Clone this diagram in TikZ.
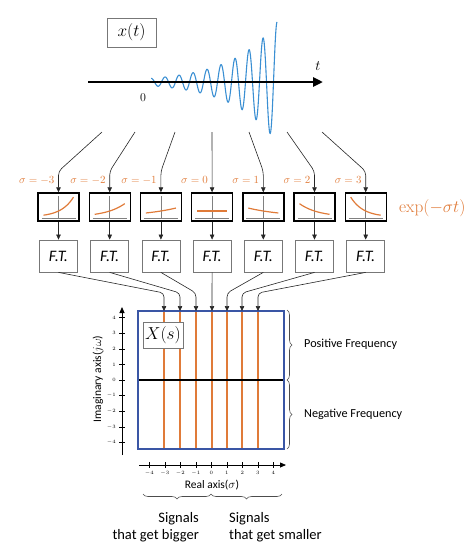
\documentclass[tikz,border=0pt]{standalone}
\usepackage[no-math]{fontspec}
\setmainfont{Carlito}
\usetikzlibrary{arrows.meta,decorations.pathreplacing,calc}
\definecolor{myorange}{HTML}{E07B39}
\definecolor{wavecol}{HTML}{3A8FD3}
\definecolor{plotblue}{HTML}{3A56A5}
\definecolor{boxgray}{HTML}{777777}
\tikzset{
 conn/.style={draw=black!85,line width=0.6pt,rounded corners=4pt,-{Triangle[length=5pt,width=4.5pt]}},
 graybox/.style={draw=boxgray,line width=0.8pt,fill=white,inner sep=0pt},
 expbox/.style={draw=black,line width=1.4pt,minimum width=41pt,minimum height=28pt,inner sep=0pt},
 ftbox/.style={graybox,minimum width=38pt,minimum height=32pt,font=\fontsize{16}{18}\selectfont\itshape},
 sig/.style={text=myorange,font=\fontsize{10.5}{11}\selectfont,anchor=east,inner sep=0pt},
 ticklbl/.style={font=\fontsize{5.5}{6}\selectfont,inner sep=0pt},
 brc/.style={decorate,decoration={brace,amplitude=5pt},draw=black!70,line width=0.6pt},
 lbl/.style={font=\fontsize{12.2}{14}\selectfont,inner sep=0pt},
 axisline/.style={line width=0.8pt,-{Triangle[length=6pt,width=5pt]}},
 sigline/.style={draw=myorange,line width=2pt}
}
\begin{document}
\begin{tikzpicture}[x=1pt,y=-1pt]
\useasboundingbox (0,0) rectangle (474,549);
% time signal
\draw[wavecol,line width=1.1pt] plot[domain=151:277,samples=500,smooth,variable=\u] (\u,{82-60*exp(0.0222*(\u-277))*cos(25.7143*(\u-277))});
\draw[line width=2.6pt,-{Triangle[length=10pt,width=9pt]}] (88,82) -- (323,82);
\node[font=\fontsize{15}{15}\selectfont] (tl) at (318,66) {$t$};
\node[font=\fontsize{13}{13}\selectfont] (zl) at (143,98) {$0$};
\node[graybox,minimum width=49pt,minimum height=29pt,font=\fontsize{17}{17}\selectfont] (xt) at (131.5,32.5) {$x(t)$};
% wave start points
\foreach \i/\sx in {1/102,2/135,3/175,4/212,5/249,6/287,7/322}{
  \coordinate (w\i) at (\sx,132);
}
% exp boxes and FT boxes
\foreach \i/\s in {1/-3,2/-2,3/-1,4/0,5/1,6/2,7/3}{
  \pgfmathsetmacro{\cx}{58.5+51.2*(\i-1)}
  \node[expbox] (e\i) at (\cx,207) {};
  \draw[gray,line width=0.7pt] (\cx-17,218) -- (\cx+17,218);
  \draw[gray,line width=0.7pt] (\cx,196) -- (\cx,219);
  \draw[myorange,line width=1.2pt] plot[domain=-1:1,samples=30,smooth,variable=\u] ({\cx+15*\u},{217-6*exp(-\s*0.4*\u)});
  \node[sig] (s\i) at (\cx-4,180) {$\sigma = \s$};
  \node[ftbox] (f\i) at (\cx,256) {F.T.};
  \draw[conn] (w\i) -- ([yshift=21pt]e\i.north) -- (e\i.north);
  \draw[conn] (e\i) -- (f\i);
}
\node[text=myorange,font=\fontsize{16.5}{17}\selectfont,anchor=west,inner sep=0pt] (expl) at (399,208) {$\exp(-\sigma t)$};
% plot region
\foreach \i/\px in {1/164,2/180,3/196,4/212,5/227,6/242,7/258}{
  \coordinate (p\i) at (\px,311);
  \coordinate (q\i) at (\px,449);
  \draw[sigline] (p\i) -- (q\i);
}
\draw[line width=1.1pt] (138,380) -- (284,380);
\node[draw=plotblue,line width=1.1pt,minimum width=146pt,minimum height=138pt,inner sep=0pt] (plot) at (211,380) {};
\foreach \i in {1,...,7}{
  \draw[conn] (f\i.south) -- ([yshift=18pt]p\i) -- (p\i);
}
\node[graybox,minimum width=40pt,minimum height=26pt,font=\fontsize{16}{16}\selectfont] (Xs) at (163,335) {$X(s)$};
% imaginary axis
\coordinate (ia0) at (122,455);
\coordinate (ia1) at (122,307);
\draw[axisline] (ia0) -- (ia1);
\foreach \k in {-4,...,4}{
  \pgfmathsetmacro{\py}{380-15.6*\k}
  \draw[line width=0.6pt] (119,\py) -- (125,\py);
  \node[ticklbl,anchor=east] at (116,\py) {$\k$};
}
\node[rotate=90,font=\fontsize{11.5}{13}\selectfont] (ial) at (98,379) {Imaginary axis($j\omega$)};
% real axis
\coordinate (ra0) at (139,465);
\coordinate (ra1) at (286,465);
\draw[axisline] (ra0) -- (ra1);
\foreach \k in {-4,...,4}{
  \pgfmathsetmacro{\px}{211.3+15.5*\k}
  \draw[line width=0.6pt] (\px,462) -- (\px,468);
  \node[ticklbl,anchor=north] at (\px,471) {$\k$};
}
\node[font=\fontsize{11.5}{13}\selectfont] (ral) at (212,485) {Real axis($\sigma$)};
% braces
\draw[brc] (287,310) -- (287,380);
\draw[brc] (287,380) -- (287,449);
\node[lbl,anchor=west] (pf) at (304,344) {Positive Frequency};
\node[lbl,anchor=west] (nf) at (304,414) {Negative Frequency};
\draw[brc] (211,494) -- (143,494);
\draw[brc] (282,494) -- (211,494);
\node[font=\fontsize{14.5}{17}\selectfont,align=right,anchor=east,inner sep=0pt] (sb) at (199,527) {Signals\\that get bigger};
\node[font=\fontsize{14.5}{17}\selectfont,align=left,anchor=west,inner sep=0pt] (ss) at (229,527) {Signals\\that get smaller};
\end{tikzpicture}
\end{document}
